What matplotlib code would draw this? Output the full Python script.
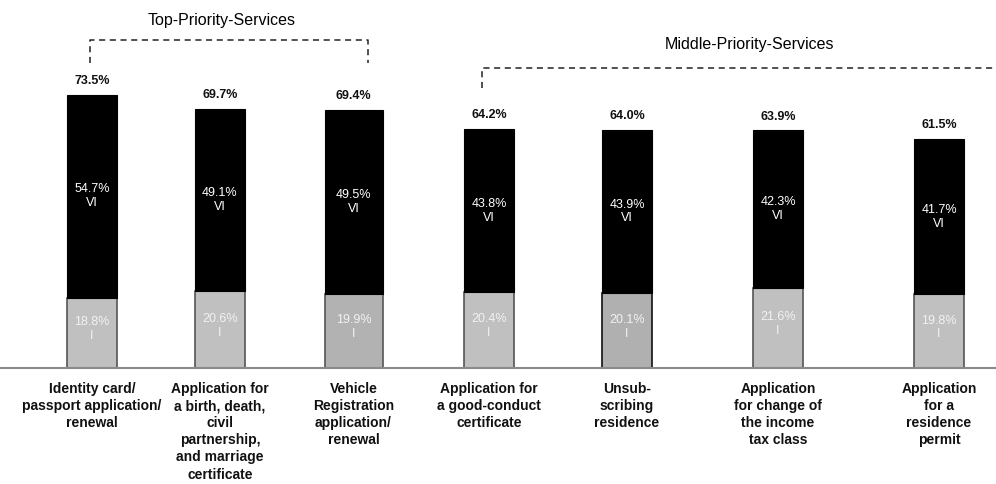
import matplotlib
matplotlib.use("Agg")
import matplotlib.pyplot as plt

# --- data ---
services = [
    "Identity card/\npassport application/\nrenewal",
    "Application for\na birth, death,\ncivil\npartnership,\nand marriage\ncertificate",
    "Vehicle\nRegistration\napplication/\nrenewal",
    "Application for\na good-conduct\ncertificate",
    "Unsub-\nscribing\nresidence",
    "Application\nfor change of\nthe income\ntax class",
    "Application\nfor a\nresidence\npermit",
]
share_vi = [54.7, 49.1, 49.5, 43.8, 43.9, 42.3, 41.7]
share_i = [18.8, 20.6, 19.9, 20.4, 20.1, 21.6, 19.8]
totals = [73.5, 69.7, 69.4, 64.2, 64.0, 63.9, 61.5]
groups = ["Top-Priority-Services", "Middle-Priority-Services"]

# --- layout (x in pixel-like units across the figure) ---
xpos = [92, 220, 353.5, 489, 627, 778, 939]
widths = [50, 50, 58, 50, 50, 50, 50]
i_colors = ["#c0c0c0", "#c0c0c0", "#b2b2b2", "#c0c0c0", "#b0b0b0", "#c0c0c0", "#c0c0c0"]
i_edges = ["#555555", "#555555", "#555555", "#555555", "#111111", "#555555", "#555555"]

plt.rcParams["font.family"] = ["Liberation Sans", "DejaVu Sans"]

fig = plt.figure(figsize=(9.96, 4.84), dpi=100)
ax = fig.add_axes([0, 0, 1, 1])
ax.set_xlim(0, 996)
px = 3.72  # pixels per percentage point
ax.set_ylim(-116 / px, 368 / px)
ax.axis("off")

ax.bar(xpos, share_i, width=widths, color=i_colors, edgecolor=i_edges, linewidth=1.2, zorder=2)
ax.bar(xpos, share_vi, width=widths, bottom=share_i, color="black", edgecolor="black",
       linewidth=0.8, zorder=2)

ax.axhline(0, color="#8a8a8a", linewidth=1.5, zorder=3)

for x, vi, i, tot, name in zip(xpos, share_vi, share_i, totals, services):
    ax.text(x, tot + 3.7, f"{tot:.1f}%", ha="center", va="center",
            fontsize=9, fontweight="bold", color="#111111")
    ax.text(x, i + vi / 2, f"{vi:.1f}%\nVI", ha="center", va="center",
            fontsize=9, color="white", linespacing=1.2)
    ax.text(x, i / 2 + 1, f"{i:.1f}%\nI", ha="center", va="center",
            fontsize=9, color="#f2f2f2", linespacing=1.2)
    ax.text(x, -3.8, name, ha="center", va="top", fontsize=10,
            fontweight="bold", linespacing=1.28, color="#111111")

# group brackets
top_y = (368 - 40) / px
top_drop = (368 - 63) / px
ax.plot([90, 90, 368, 368], [top_drop, top_y, top_y, top_drop], color="#222222",
        linestyle=(0, (4, 3)), linewidth=1.1)
ax.text(222, (368 - 20) / px, groups[0], ha="center", va="center", fontsize=11.5)

mid_y = (368 - 68) / px
mid_drop = (368 - 88) / px
ax.plot([482, 482, 996], [mid_drop, mid_y, mid_y], color="#222222",
        linestyle=(0, (4, 3)), linewidth=1.1)
ax.text(750, (368 - 45) / px, groups[1], ha="center", va="center", fontsize=11.5)

fig.savefig("out.png", dpi=100, facecolor="white")
